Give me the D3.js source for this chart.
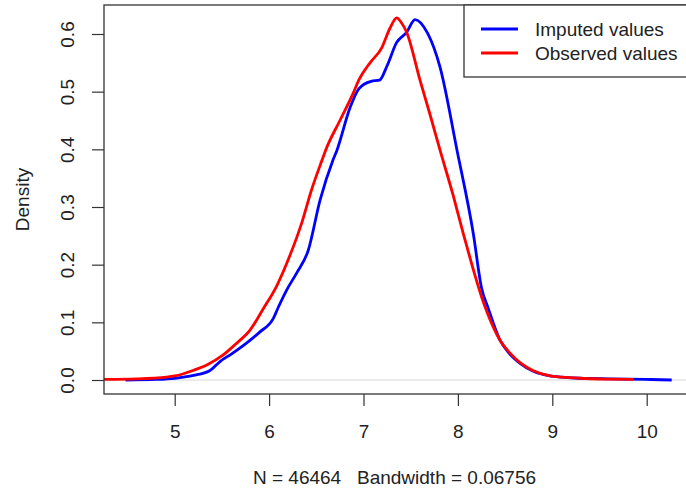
<!DOCTYPE html>
<html>
<head>
<meta charset="utf-8">
<script src="https://cdn.jsdelivr.net/npm/d3@7"></script>
<style>
  body { margin: 0; background: #fff; }
  text { font-family: "Liberation Sans", Arial, sans-serif; fill: #222; }
</style>
</head>
<body>
<script>
//density estimates
var imputedX = [4.48, 4.8, 5.0, 5.09, 5.2, 5.37, 5.48, 5.6, 5.76, 5.9, 6.045, 6.1, 6.186, 6.29, 6.415, 6.54, 6.676, 6.72, 6.857, 6.95, 7.08, 7.17, 7.25, 7.35, 7.457, 7.546, 7.68, 7.81, 7.99, 8.163, 8.25, 8.32, 8.446, 8.55, 8.658, 8.8, 8.976, 9.1, 9.29, 9.6, 10.0, 10.265];
var imputedY = [0, 0.001, 0.003, 0.005, 0.008, 0.016, 0.032, 0.045, 0.064, 0.083, 0.107, 0.127, 0.156, 0.185, 0.225, 0.312, 0.381, 0.399, 0.472, 0.505, 0.518, 0.52, 0.545, 0.585, 0.603, 0.625, 0.601, 0.543, 0.399, 0.254, 0.16, 0.125, 0.069, 0.045, 0.029, 0.015, 0.007, 0.005, 0.003, 0.002, 0.001, 0];

var observedX = [4.2, 4.6, 4.915, 5.0, 5.2, 5.35, 5.51, 5.65, 5.8, 5.94, 6.08, 6.186, 6.345, 6.45, 6.56, 6.6, 6.75, 6.89, 6.95, 7.069, 7.196, 7.28, 7.352, 7.4, 7.457, 7.6, 7.7, 7.81, 7.95, 8.057, 8.287, 8.446, 8.55, 8.658, 8.8, 8.976, 9.1, 9.29, 9.6, 9.86];
var observedY = [0.001, 0.002, 0.005, 0.007, 0.017, 0.027, 0.043, 0.063, 0.087, 0.124, 0.163, 0.202, 0.272, 0.33, 0.381, 0.399, 0.45, 0.497, 0.52, 0.55, 0.577, 0.61, 0.628, 0.62, 0.603, 0.519, 0.463, 0.399, 0.32, 0.254, 0.127, 0.069, 0.047, 0.03, 0.016, 0.007, 0.005, 0.003, 0.0015, 0.001];

var xTicks = [5, 6, 7, 8, 9, 10];
var yTicks = [0, 0.1, 0.2, 0.3, 0.4, 0.5, 0.6];
var seriesNames = ["Imputed values", "Observed values"];
var seriesColors = ["#0000ff", "#ff0000"];

var width = 686,
    height = 490,
    fontSize = 19;

//plot box edges
var boxLeft = 104, boxRight = 693, boxTop = 5, boxBottom = 394;

var svg = d3.select("body")
    .append("svg")
    .attr("width", width)
    .attr("height", height);

var x = d3.scaleLinear()
    .domain([5, 10])
    .range([174.7, 646.7]);

var y = d3.scaleLinear()
    .domain([0, 0.6])
    .range([380, 34]);

svg.append("defs")
    .append("clipPath")
    .attr("id", "plotclip")
    .append("rect")
    .attr("x", boxLeft)
    .attr("y", boxTop)
    .attr("width", boxRight - boxLeft)
    .attr("height", boxBottom - boxTop);

//zero line
svg.append("line")
    .attr("x1", boxLeft).attr("x2", boxRight)
    .attr("y1", y(0)).attr("y2", y(0))
    .attr("stroke", "#d6d6d6")
    .attr("stroke-width", 1);

var line = d3.line()
    .x(function(d){ return x(d[0]); })
    .y(function(d){ return y(d[1]); })
    .curve(d3.curveMonotoneX);

var series = [d3.zip(imputedX, imputedY), d3.zip(observedX, observedY)];

svg.append("g")
    .attr("clip-path", "url(#plotclip)")
    .selectAll("path")
    .data(series)
    .enter()
    .append("path")
    .attr("d", line)
    .attr("fill", "none")
    .attr("stroke", function(d, i){ return seriesColors[i]; })
    .attr("stroke-width", 2.8)
    .attr("stroke-linejoin", "round");

//x axis
var xAxis = svg.append("g")
    .attr("transform", "translate(0," + boxBottom + ")")
    .call(d3.axisBottom(x).tickValues(xTicks).tickSize(12).tickPadding(19).tickFormat(d3.format("d")));
xAxis.select(".domain").remove();
xAxis.selectAll("line").attr("stroke", "#333").attr("stroke-width", 1.2);
xAxis.selectAll("text").attr("font-size", fontSize).style("fill", "#222");

//y axis, labels turned like R
var yAxis = svg.append("g")
    .attr("transform", "translate(" + boxLeft + ",0)")
    .call(d3.axisLeft(y).tickValues(yTicks).tickSize(12).tickFormat(d3.format(".1f")));
yAxis.select(".domain").remove();
yAxis.selectAll("line").attr("stroke", "#333").attr("stroke-width", 1.2);
yAxis.selectAll("text")
    .attr("x", null).attr("dy", null)
    .attr("text-anchor", "middle")
    .attr("font-size", fontSize)
    .style("fill", "#222")
    .attr("transform", "translate(-37,0) rotate(-90) translate(0,6.5)");

//plot frame
svg.append("rect")
    .attr("x", boxLeft)
    .attr("y", boxTop)
    .attr("width", boxRight - boxLeft)
    .attr("height", boxBottom - boxTop)
    .attr("fill", "none")
    .attr("stroke", "#333")
    .attr("stroke-width", 1.3);

//axis titles
svg.append("text")
    .attr("x", (boxLeft + boxRight) / 2 - 4)
    .attr("y", 484)
    .attr("text-anchor", "middle")
    .attr("font-size", fontSize)
    .style("white-space", "pre")
    .text("N = 46464   Bandwidth = 0.06756");

svg.append("text")
    .attr("transform", "translate(29," + ((boxTop + boxBottom) / 2) + ") rotate(-90)")
    .attr("text-anchor", "middle")
    .attr("font-size", fontSize)
    .text("Density");

//legend
var legend = svg.append("g");
legend.append("rect")
    .attr("x", 464)
    .attr("y", boxTop)
    .attr("width", 240)
    .attr("height", 72)
    .attr("fill", "#fff")
    .attr("stroke", "#333")
    .attr("stroke-width", 1.3);

var items = legend.selectAll(".item")
    .data(seriesNames)
    .enter()
    .append("g")
    .attr("class", "item")
    .attr("transform", function(d, i){ return "translate(0," + (29 + i * 24) + ")"; });

items.append("line")
    .attr("x1", 481).attr("x2", 518)
    .attr("stroke", function(d, i){ return seriesColors[i]; })
    .attr("stroke-width", 2.8);

items.append("text")
    .attr("x", 535)
    .attr("dy", "0.35em")
    .attr("font-size", fontSize)
    .text(function(d){ return d; });
</script>
</body>
</html>
